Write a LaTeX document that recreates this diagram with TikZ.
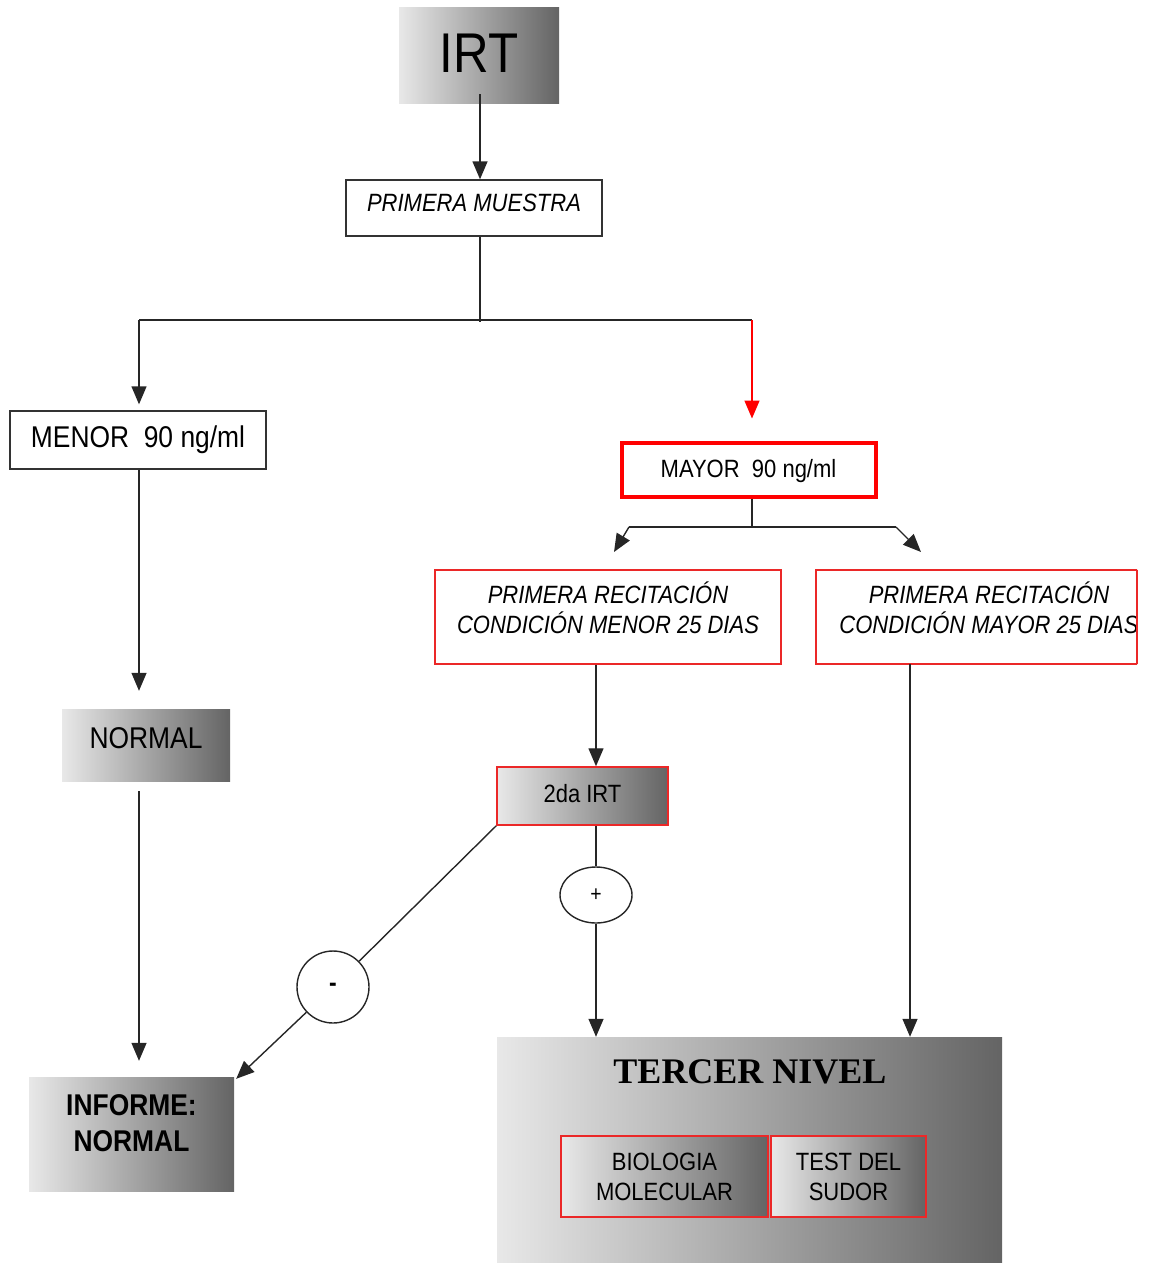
\documentclass[tikz,border=0pt]{standalone}
\usepackage{fontspec}
\setmainfont{Liberation Sans}[FakeStretch=0.88]
\newfontfamily\serifbox{Liberation Serif}
\usetikzlibrary{arrows.meta,shapes.geometric,calc}
\definecolor{gl}{RGB}{232,232,232}
\definecolor{gd}{RGB}{100,100,100}
\definecolor{rd}{RGB}{255,0,0}
\definecolor{rl}{RGB}{235,40,40}
\tikzset{
  conn/.style={line width=1.4pt,draw=black!85},
  arr/.style={conn,-{Triangle[length=18pt,width=15pt]}},
  plain/.style={draw=black!80,line width=1.4pt,fill=white,inner sep=0pt,align=center},
  grad/.style={shading=axis,left color=gl,right color=gd,inner sep=0pt,align=center},
  redbox/.style={draw=rl,line width=1.5pt,inner sep=0pt,align=center},
  fs/.style 2 args={font=\fontsize{#1}{#2}\selectfont},
  it/.style 2 args={font=\fontsize{#1}{#2}\selectfont\itshape},
}
\begin{document}
\begin{tikzpicture}[x=1pt,y=-1pt]
\useasboundingbox (0,0) rectangle (1149,1263);
% nodes
\node[grad,minimum width=160pt,minimum height=95pt,fs={56}{66},text depth=4pt] (irt) at (479,55.5) {IRT};
\node[plain,minimum width=256pt,minimum height=56pt,it={25}{30},text depth=10pt] (prim) at (474,208) {PRIMERA MUESTRA};
\node[plain,minimum width=256pt,minimum height=58pt,fs={30}{34}] (menor) at (138,440) {MENOR\ \ 90 ng/ml};
\node[draw=rd,line width=4pt,fill=white,inner sep=0pt,minimum width=254pt,minimum height=54pt,fs={25}{30},text depth=3pt] (mayor) at (748.5,469.5) {MAYOR\ \ 90 ng/ml};
\node[redbox,fill=white,minimum width=346pt,minimum height=94pt,it={25}{30},text depth=19pt] (rec1) at (608,617) {PRIMERA RECITACIÓN\\CONDICIÓN MENOR 25 DIAS};
\begin{scope}
\clip (810,560) rectangle (1137,680);
\node[redbox,fill=white,minimum width=346pt,minimum height=94pt,it={25}{30},text depth=19pt] (rec2) at (989,617) {PRIMERA RECITACIÓN\\CONDICIÓN MAYOR 25 DIAS};
\end{scope}
\draw[rl,line width=1.5pt] (1137,570) -- (1137,664);
\node[grad,minimum width=168pt,minimum height=72pt,fs={30}{34},text depth=14pt] (normal) at (146,745) {NORMAL};
\node[grad,minimum width=205pt,minimum height=114pt,font=\fontsize{30}{36}\selectfont\bfseries,text depth=22pt] (informe) at (131.5,1134) {INFORME:\\NORMAL};
\node[grad,draw=rl,line width=1.5pt,minimum width=171pt,minimum height=58pt,fs={25}{30},text depth=5pt] (irt2) at (582.5,796) {2da IRT};
\node[ellipse,draw=black!85,line width=1.4pt,minimum width=72pt,minimum height=56pt,inner sep=0pt,fs={22}{26}] (plus) at (596,895) {+};
\node[circle,draw=black!85,line width=1.4pt,minimum size=72pt,inner sep=0pt,font=\fontsize{26}{30}\selectfont\bfseries] (minus) at (333,987) {-};
\node[grad,minimum width=505pt,minimum height=226pt] (tercer) at (749.5,1150) {};
\node[font=\fontsize{36}{44}\selectfont\serifbox\bfseries] (tn) at (750,1072) {TERCER NIVEL};
\node[grad,draw=rl,line width=1.5pt,minimum width=207pt,minimum height=81pt,fs={25}{30}] (bio) at (664.5,1176.5) {BIOLOGIA\\MOLECULAR};
\node[grad,draw=rl,line width=1.5pt,minimum width=155pt,minimum height=81pt,fs={25}{30}] (test) at (848.5,1176.5) {TEST DEL\\SUDOR};
% junctions
\coordinate (j1) at (480,320);
\coordinate (jl) at (139,320);
\coordinate (jr) at (752,320);
\coordinate (k1) at (752,527);
\coordinate (kl) at (629,527);
\coordinate (kr) at (896,527);
\coordinate (tl) at (614,552);
\coordinate (tr) at (921,552);
% connectors
\draw[arr] ($(irt.south -| j1)+(0,-9)$) -- (prim.north -| j1);
\draw[conn] (prim.south -| j1) -- ($(j1)+(0,2)$);
\draw[conn] (jl) -- (jr);
\draw[arr,shorten >=6pt] (jl) -- (menor.north -| jl);
\draw[conn,draw=rd,-{Triangle[length=18pt,width=15pt]},shorten >=22pt] (jr) -- (mayor.north -| jr);
\draw[conn] (mayor.south -| k1) -- (k1);
\draw[conn] (kl) -- (kr);
\draw[arr] (kl) -- (tl);
\draw[arr] (kr) -- (tr);
\draw[arr,shorten >=18pt] (menor.south -| jl) -- (normal.north -| jl);
\draw[arr,shorten >=16pt] ($(normal.south -| jl)+(0,10)$) -- (informe.north -| jl);
\coordinate (cx) at (596,0);
\draw[arr] (rec1.south -| cx) -- (irt2.north -| cx);
\draw[conn] (irt2.south -| cx) -- (plus.north);
\draw[arr] (plus.south) -- (tercer.north -| cx);
\draw[conn] (irt2.south west) -- (minus);
\draw[arr] (minus) -- ($(informe.north east)+(2,2)$);
\coordinate (rx) at (910,0);
\draw[arr] (rx |- 0,664) -- (tercer.north -| rx);
\end{tikzpicture}
\end{document}
